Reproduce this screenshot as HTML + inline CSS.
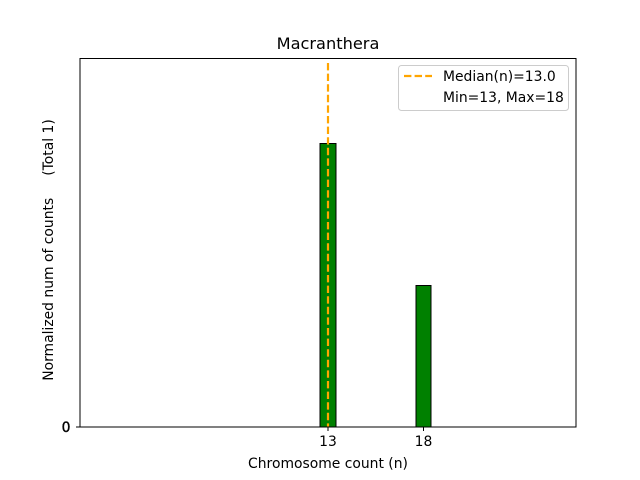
<!DOCTYPE html>
<html><head><meta charset="utf-8"><style>html,body{margin:0;padding:0;background:#fff}svg{display:block}</style></head>
<body>
<svg width="640" height="480" xmlns="http://www.w3.org/2000/svg" font-family="DejaVu Sans, Liberation Sans, sans-serif">
<rect width="640" height="480" fill="#fff"/>
<text x="328" y="49" font-size="16.2" text-anchor="middle">Macranthera</text>
<rect x="320" y="143.5" width="16" height="283.5" fill="#008000" stroke="#000" stroke-width="1"/>
<rect x="416" y="285.5" width="15" height="141.5" fill="#008000" stroke="#000" stroke-width="1"/>
<line x1="328" y1="63" x2="328" y2="427" stroke="#FFA500" stroke-width="2.2" stroke-dasharray="7.4,3.2"/>
<rect x="80" y="58.5" width="496" height="368.5" fill="none" stroke="#000" stroke-width="1"/>
<line x1="76" y1="427" x2="80" y2="427" stroke="#000"/>
<text x="70.5" y="432" font-size="13.9" text-anchor="end" stroke="#000" stroke-width="0.4">0</text>
<line x1="328" y1="427" x2="328" y2="431" stroke="#000"/>
<line x1="423.5" y1="427" x2="423.5" y2="431" stroke="#000"/>
<text x="328" y="446" font-size="13.9" text-anchor="middle">13</text>
<text x="423.5" y="446" font-size="13.9" text-anchor="middle">18</text>
<text x="328" y="468" font-size="13.9" text-anchor="middle">Chromosome count (n)</text>
<text transform="translate(53,250) rotate(-90)" font-size="13.9" text-anchor="middle" xml:space="preserve">Normalized num of counts     (Total 1)</text>
<rect x="398.5" y="65.5" width="170" height="45" rx="3" fill="#fff" fill-opacity="0.8" stroke="#ccc"/>
<line x1="404" y1="76" x2="432" y2="76" stroke="#FFA500" stroke-width="2.2" stroke-dasharray="7.4,3.2"/>
<text x="443" y="81" font-size="13.9">Median(n)=13.0</text>
<text x="443" y="102" font-size="13.9">Min=13, Max=18</text>
</svg>
</body></html>
